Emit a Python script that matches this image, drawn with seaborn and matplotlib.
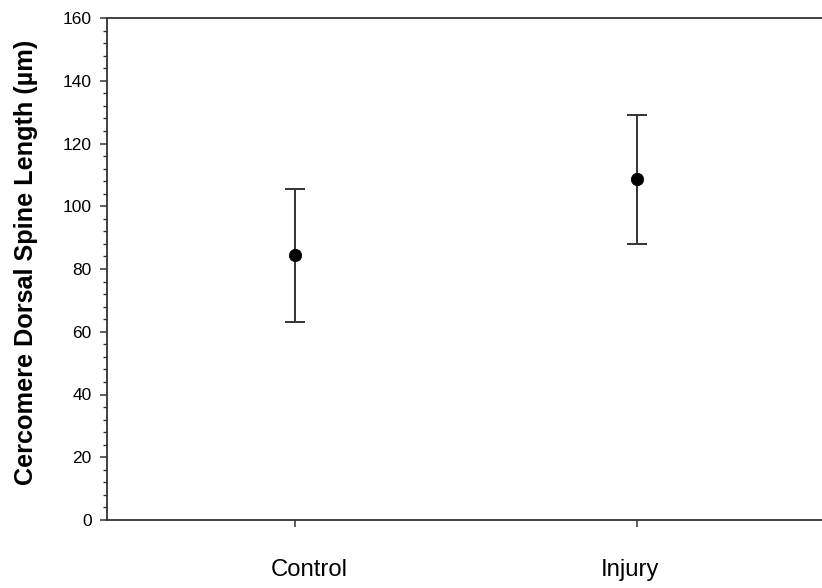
import matplotlib
matplotlib.use("Agg")
import matplotlib.pyplot as plt
from matplotlib.ticker import MultipleLocator
from matplotlib.transforms import ScaledTranslation
import seaborn as sns
import pandas as pd

groups = ["Control", "Injury"]
means = [84.6, 108.8]
err_low = [21.6, 20.9]
err_high = [20.9, 20.2]

sns.set_theme(style="white")
plt.rcParams['font.family'] = ['Liberation Sans', 'DejaVu Sans']
plt.rcParams['text.color'] = 'black'
plt.rcParams['axes.labelcolor'] = 'black'
plt.rcParams['xtick.color'] = 'black'
plt.rcParams['ytick.color'] = 'black'

df = pd.DataFrame({"group": groups, "mean": means})

fig = plt.figure(figsize=(8.22, 5.88), dpi=100)
ax = fig.add_axes([107/822, 1-520/588, 1-107/822, (520-18)/588])

ax.errorbar(df["group"], df["mean"], yerr=[err_low, err_high], fmt="none",
            ecolor="#333333", elinewidth=1.4, capsize=7.5, capthick=1.4, zorder=2)
sns.scatterplot(data=df, x="group", y="mean", color="black", s=80,
                edgecolor="black", linewidth=0.5, ax=ax, zorder=3)

ax.set_xlim(-0.548, 1.54)
ax.set_ylim(0, 160)
ax.yaxis.set_major_locator(MultipleLocator(20))
ax.yaxis.set_minor_locator(MultipleLocator(4))

for s in ["left", "top", "bottom"]:
    ax.spines[s].set_color("#333333")
    ax.spines[s].set_linewidth(1.3)
ax.spines["right"].set_visible(False)

ax.tick_params(axis="y", which="major", direction="out", length=5, width=1.1,
               color="#333333", labelcolor="black", labelsize=12.5, pad=6, left=True)
ax.tick_params(axis="y", which="minor", direction="out", length=3, width=1.0,
               color="#333333", left=True)
ax.tick_params(axis="x", which="major", direction="out", length=5, width=1.1,
               color="#333333", labelcolor="black", labelsize=17.2, pad=23, bottom=True)

# small horizontal offsets of the category labels, as in the reference
offsets_px = [15, -7]
for lab, dx in zip(ax.get_xticklabels(), offsets_px):
    lab.set_transform(lab.get_transform() + ScaledTranslation(dx / 100, 0, fig.dpi_scale_trans))

ax.set_xlabel("")
ax.set_ylabel("Cercomere Dorsal Spine Length (µm)", fontsize=18.2,
              fontweight="bold", color="black")
ax.yaxis.set_label_coords(-(107 - 38) / 715, (520 - 262) / 502)

fig.savefig("out.png", dpi=100)
